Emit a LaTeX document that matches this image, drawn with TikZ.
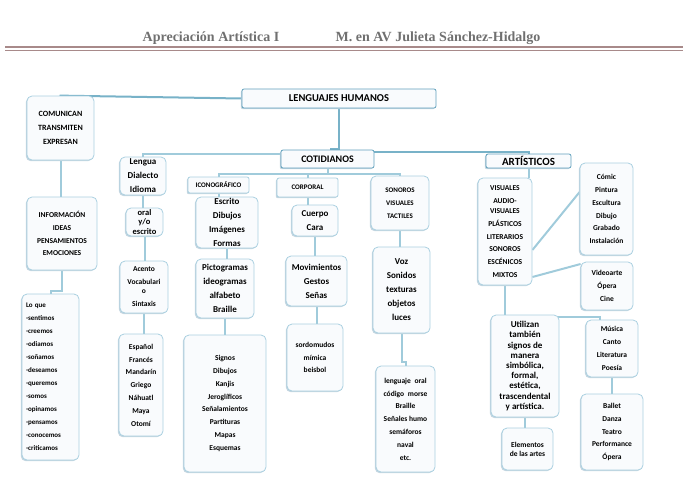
\documentclass[tikz,border=0pt]{standalone}
\usepackage{fontspec}
\setmainfont{Carlito}
\newfontfamily\hdrfont{Liberation Serif}
\usetikzlibrary{shapes,positioning,calc,backgrounds,shadows}
\definecolor{linkblue}{RGB}{160,203,219}
\definecolor{toplink}{RGB}{120,178,200}
\definecolor{boxline}{RGB}{170,208,224}
\definecolor{topline}{RGB}{96,160,188}
\definecolor{boxfill}{RGB}{249,251,253}
\definecolor{boxshade}{RGB}{196,214,224}
\definecolor{hdrgray}{RGB}{112,112,112}
\definecolor{hdrrule}{RGB}{168,138,138}

\begin{document}
\begin{tikzpicture}[
    x=1pt, y=-1pt,
    box/.style={rectangle, draw=boxline, fill=boxfill, rounded corners=5pt, line width=0.8pt,
                align=center, inner sep=1pt,
                drop shadow={shadow xshift=-1.2pt, shadow yshift=-1.2pt, fill=boxshade, opacity=1}},
    topbox/.style={box, draw=topline, rounded corners=2pt, font=\fontsize{10.5}{12}\selectfont\bfseries},
    small/.style={font=\fontsize{7.5}{12.8}\selectfont\bfseries},
    tiny/.style={font=\fontsize{7}{13}\selectfont\bfseries},
    big/.style={font=\fontsize{9}{14}\selectfont\bfseries},
    link/.style={draw=linkblue, line width=2pt},
    toplinkk/.style={draw=toplink, line width=2pt},
    hdr/.style={font=\hdrfont\fontsize{14}{16}\selectfont\bfseries, text=hdrgray, inner sep=0pt}
]
\useasboundingbox (0,0) rectangle (683,483);

%% ── Header ───────────────────────────────────────────────────────
\node[hdr] (hdrA) at (211,38) {Apreciación Artística I};
\node[hdr] (hdrB) at (438,38) {M. en AV Julieta Sánchez-Hidalgo};
\draw[hdrrule, line width=2pt] (5,46.5) -- (683,46.5);
\draw[hdrrule, line width=0.7pt] (5,50.5) -- (683,50.5);

%% ── Top level ────────────────────────────────────────────────────
\node[topbox, minimum width=194pt, minimum height=19pt] (lengua) at (339,98.5) {LENGUAJES HUMANOS};
\node[topbox, minimum width=93pt, minimum height=18pt, font=\fontsize{10}{12}\selectfont\bfseries] (cotid) at (327.5,159) {COTIDIANOS};
\node[topbox, minimum width=85pt, minimum height=14pt, font=\fontsize{11}{12}\selectfont\bfseries] (artis) at (528.5,161) {ARTÍSTICOS};

%% ── Left column ──────────────────────────────────────────────────
\node[box, minimum width=67pt, minimum height=64pt, font=\fontsize{8}{14}\selectfont\bfseries] (comunican) at (60.5,128) {COMUNICAN\\TRANSMITEN\\EXPRESAN};
\node[box, small, minimum width=70pt, minimum height=73pt] (info) at (62,233.5) {INFORMACIÓN\\IDEAS\\PENSAMIENTOS\\EMOCIONES};
\node[box, tiny, minimum width=57pt, minimum height=166pt, text width=49pt, align=left] (loque) at (50.5,377)
    {Lo que\\-sentimos\\-creemos\\-odiamos\\-soñamos\\-deseamos\\-queremos\\-somos\\-opinamos\\-pensamos\\-conocemos\\-criticamos};

%% ── Cotidianos: lengua ───────────────────────────────────────────
\node[box, big, minimum width=46pt, minimum height=38pt] (lengue) at (143,176) {Lengua\\Dialecto\\Idioma};
\node[box, minimum width=37pt, minimum height=28pt, font=\fontsize{8.5}{9.5}\selectfont\bfseries] (oral) at (144.5,222) {oral\\y/o\\escrito};
\node[box, minimum width=48pt, minimum height=52pt, font=\fontsize{7.5}{9}\selectfont\bfseries] (acento) at (144,287) {Acento\\[4pt]Vocabulari\\o\\[4pt]Sintaxis};
\node[box, small, minimum width=44pt, minimum height=102pt] (espanol) at (141,385) {Español\\Francés\\Mandarín\\Griego\\Náhuatl\\Maya\\Otomí};

%% ── Cotidianos: iconográfico ─────────────────────────────────────
\node[box, tiny, minimum width=61pt, minimum height=16pt, rounded corners=2pt] (icono) at (218.5,185) {ICONOGRÁFICO};
\node[box, big, minimum width=62pt, minimum height=51pt] (escrito) at (227,222.5) {Escrito\\Dibujos\\Imágenes\\Formas};
\node[box, big, minimum width=58pt, minimum height=59pt] (picto) at (225,288.5) {Pictogramas\\ideogramas\\alfabeto\\Braille};
\node[box, small, minimum width=82pt, minimum height=137pt] (signos) at (225,403.5)
    {Signos\\Dibujos\\Kanjis\\Jeroglíficos\\Señalamientos\\Partituras\\Mapas\\Esquemas};

%% ── Cotidianos: corporal ─────────────────────────────────────────
\node[box, tiny, minimum width=61pt, minimum height=19pt, rounded corners=2pt] (corporal) at (307.5,187.5) {CORPORAL};
\node[box, big, minimum width=46pt, minimum height=31pt] (cuerpo) at (315,220.5) {Cuerpo\\Cara};
\node[box, big, minimum width=61pt, minimum height=50pt] (movim) at (316.5,281) {Movimientos\\Gestos\\Señas};
\node[box, small, minimum width=56pt, minimum height=67pt] (sordo) at (315,357.5) {sordomudos\\mímica\\beisbol};

%% ── Cotidianos: sonoros ──────────────────────────────────────────
\node[box, tiny, minimum width=58pt, minimum height=54pt] (sonoros) at (400,203) {SONOROS\\VISUALES\\TACTILES};
\node[box, big, minimum width=57pt, minimum height=86pt] (voz) at (401.5,290) {Voz\\Sonidos\\texturas\\objetos\\luces};
\node[box, small, minimum width=59pt, minimum height=106pt] (lenguaje) at (405.5,419)
    {lenguaje\enspace oral\\código\enspace morse\\Braille\\Señales humo\\semáforos\\naval\\etc.};

%% ── Artísticos ───────────────────────────────────────────────────
\node[box, small, minimum width=54pt, minimum height=107pt] (visuales) at (505,231.5)
    {VISUALES\\AUDIO-\\[-2.5pt]VISUALES\\PLÁSTICOS\\LITERARIOS\\SONOROS\\ESCÉNICOS\\MIXTOS};
\node[box, small, minimum width=53pt, minimum height=92pt] (comic) at (606.5,209) {Cómic\\Pintura\\Escultura\\Dibujo\\Grabado\\Instalación};
\node[box, small, minimum width=52pt, minimum height=48pt] (video) at (607,286) {Videoarte\\Ópera\\Cine};
\node[box, minimum width=68pt, minimum height=102pt, font=\fontsize{9}{10.2}\selectfont\bfseries] (utilizan) at (525,366)
    {Utilizan\\también\\signos de\\manera\\simbólica,\\formal,\\estética,\\trascendental\\y artística.};
\node[box, minimum width=51pt, minimum height=42pt, font=\fontsize{7.5}{9}\selectfont\bfseries] (elementos) at (527.5,449) {Elementos\\de las artes};
\node[box, small, minimum width=52pt, minimum height=57pt] (musica) at (612,348.5) {Música\\Canto\\Literatura\\Poesía};
\node[box, small, minimum width=62pt, minimum height=76pt] (ballet) at (612,432) {Ballet\\Danza\\Teatro\\Performance\\Ópera};

%% ── Connectors ───────────────────────────────────────────────────
\begin{scope}[on background layer]
\draw[toplinkk] (lengua.west) -- ([xshift=-1pt]comunican.north);
\draw[link] (comunican.south) -- (comunican.south |- info.north);
\draw[link] (info.south) -- ++(0,21) -| (loque.north);
\draw[toplinkk] (lengua.south) -- ++(0,41) -| ([xshift=3pt]cotid.north);
\draw[toplinkk] ([yshift=7pt]cotid.east) -| (artis.north);
\draw[link] ([yshift=5pt]cotid.west) -| (lengue.north);
\draw[link] (cotid.south) -- ++(0,6);
\draw[link] (icono.north) -- ++(0,-3) -| (sonoros.north);
\draw[link] (corporal.north) -- ++(0,-4);
% left branch
\draw[link] (lengue.south) -- (lengue.south |- oral.north);
\draw[link] (oral.south) -- (oral.south |- acento.north);
\draw[link] (acento.south) -- (acento.south |- espanol.north);
% iconografico
\draw[link] (icono.south) -- (icono.south |- escrito.north);
\draw[link] (escrito.south) -- (escrito.south |- picto.north);
\draw[link] (picto.south) -- (picto.south |- signos.north);
% corporal
\draw[link] (corporal.south) -- (corporal.south |- cuerpo.north);
\draw[link] (cuerpo.south) -- (cuerpo.south |- movim.north);
\draw[link] (movim.south) -- (movim.south |- sordo.north);
% sonoros
\draw[link] (sonoros.south) -- (sonoros.south |- voz.north);
\draw[link] (voz.south) -- ++(0,29) -| (lenguaje.north);
% artisticos
\draw[link] (artis.south) -- (artis.south |- visuales.north);
\draw[link] ([yshift=-18.5pt]visuales.east) -- ([yshift=17pt]comic.west);
\draw[link] ([yshift=-45.5pt]visuales.east) -- ([yshift=22pt]video.west);
\draw[link] (visuales.south) -- ++(0,32) -| ([xshift=-12pt]musica.north);
\draw[link] (musica.south) -- (musica.south |- ballet.north);
\draw[link] (utilizan.south) -- (utilizan.south |- elementos.north);
\end{scope}

\end{tikzpicture}
\end{document}
